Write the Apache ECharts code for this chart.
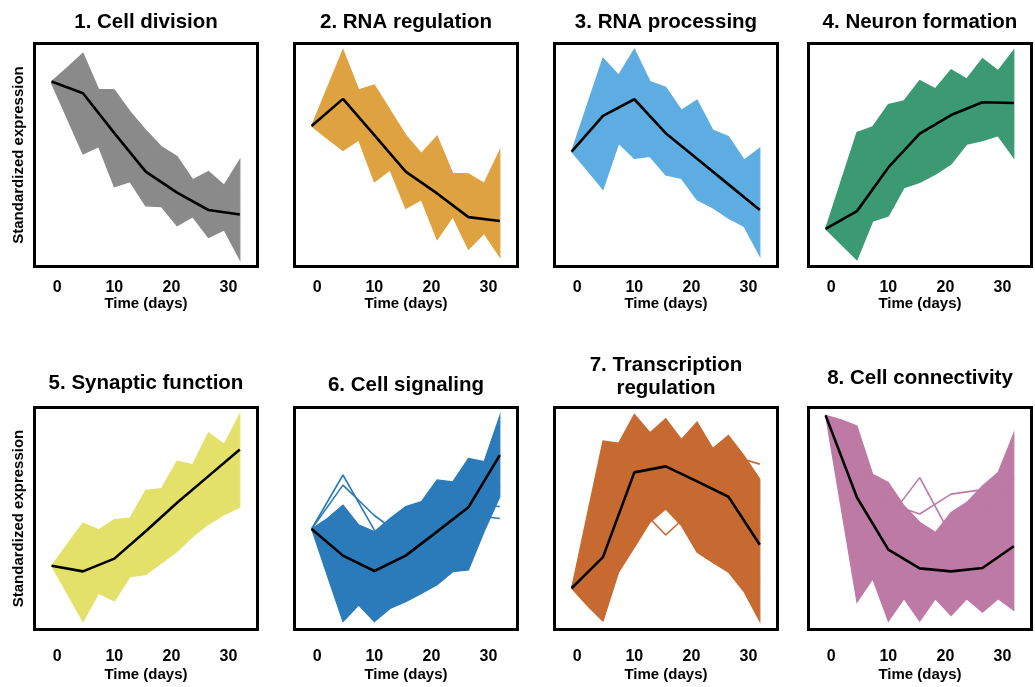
<!DOCTYPE html>
<html><head><meta charset="utf-8">
<script src="https://cdn.jsdelivr.net/npm/echarts@6/dist/echarts.min.js"></script>
<style>html,body{margin:0;padding:0;background:#fff}#c{width:1035px;height:687px}</style>
</head><body><div id="c"></div>
<script>
// ---- data ----
const TIMES = [-1, 4.5, 10, 15.5, 21, 26.5, 32];                // sampling days
const ENV_TIMES = [-1, 1.75, 4.5, 7.25, 10, 12.75, 15.5, 18.25, 21, 23.75, 26.5, 29.25, 32]; // envelope reading positions
const X_TICKS = [0, 10, 20, 30];
const TITLES = [['1. Cell division'], ['2. RNA regulation'], ['3. RNA processing'], ['4. Neuron formation'],
                ['5. Synaptic function'], ['6. Cell signaling'], ['7. Transcription', 'regulation'], ['8. Cell connectivity']];
const COLORS = ['#8a8a8a', '#dfa240', '#5eade2', '#3b9a73', '#e4e16a', '#2b7bba', '#c76a31', '#bd7aa5'];
const Y_NAME = 'Standardized expression';
const X_NAME = 'Time (days)';

const P1_MEAN  = [1.95, 1.64, 0.58, -0.44, -1.00, -1.46, -1.58];
const P1_UPPER = [1.95, 2.32, 2.70, 1.74, 1.73, 1.15, 0.66, 0.22, -0.04, -0.66, -0.44, -0.80, -0.13];
const P1_LOWER = [1.90, 0.97, 0.03, 0.22, -0.84, -0.71, -1.35, -1.37, -1.88, -1.64, -2.19, -1.99, -2.77];

const P2_MEAN  = [0.77, 1.49, 0.53, -0.44, -1.02, -1.65, -1.75];
const P2_UPPER = [0.77, 1.78, 2.79, 1.73, 1.86, 1.19, 0.53, 0.04, 0.50, -0.49, -0.50, -0.75, 0.12];
const P2_LOWER = [0.77, 0.44, 0.12, 0.40, -0.71, -0.40, -1.42, -1.19, -2.24, -1.64, -2.50, -2.08, -2.70];

const P3_MEAN  = [0.09, 1.04, 1.48, 0.58, -0.10, -0.78, -1.46];
const P3_UPPER = [0.09, 1.33, 2.57, 2.12, 2.81, 1.95, 1.80, 1.19, 1.46, 0.66, 0.49, -0.13, 0.18];
const P3_LOWER = [0.09, -0.40, -0.91, 0.31, -0.09, -0.04, -0.53, -0.62, -1.19, -1.40, -1.68, -1.90, -2.68];

const P4_MEAN  = [-1.96, -1.49, -0.33, 0.57, 1.06, 1.40, 1.38];
const P4_UPPER = [-1.96, -0.68, 0.60, 0.75, 1.34, 1.44, 1.98, 1.76, 2.26, 2.02, 2.56, 2.24, 2.78];
const P4_LOWER = [-1.96, -2.37, -2.78, -1.76, -1.62, -0.87, -0.73, -0.51, -0.24, 0.29, 0.38, 0.51, -0.07];

const P5_MEAN  = [-1.26, -1.41, -1.07, -0.34, 0.42, 1.13, 1.84];
const P5_UPPER = [-1.26, -0.69, -0.12, -0.30, -0.03, 0.01, 0.75, 0.80, 1.53, 1.44, 2.29, 1.98, 2.78];
const P5_LOWER = [-1.26, -2.00, -2.75, -1.99, -2.20, -1.55, -1.50, -1.19, -0.88, -0.48, -0.15, 0.10, 0.30];

const P6_MEAN  = [-0.28, -0.99, -1.40, -0.99, -0.35, 0.30, 1.69];
const P6_UPPER = [-0.28, 0.00, 0.36, -0.17, -0.35, 0.00, 0.32, 0.45, 1.03, 0.98, 1.60, 1.52, 2.74];
const P6_LOWER = [-0.28, -1.52, -2.75, -2.31, -2.75, -2.40, -2.22, -2.00, -1.77, -1.42, -1.37, -0.35, 0.58];
const P6_STRAY_A = [-0.28, 1.16, -0.31, -0.71, -0.35, 0.18, 0.89];
const P6_STRAY_B = [-0.28, 0.89, 0.08, -0.53, -0.35, 0.36, 0.32];
const P6_STRAY_C = [-0.28, -1.20, -1.60, -1.30, -0.60, 0.10, 0.00];

const P7_MEAN  = [-1.86, -1.03, 1.23, 1.39, 0.99, 0.58, -0.70];
const P7_UPPER = [-1.86, 0.11, 2.07, 2.01, 2.78, 2.29, 2.66, 2.11, 2.57, 1.87, 2.22, 1.67, 1.05];
const P7_LOWER = [-1.86, -2.32, -2.74, -1.43, -0.77, -0.10, 0.25, -0.19, -0.90, -1.17, -1.43, -1.96, -2.74];
const P7_STRAY_A = [-1.86, 0.40, 0.43, -0.44, 0.34, 0.50, -0.30];
const P7_STRAY_B = [-1.86, 1.00, 1.80, 1.90, 1.80, 1.70, 1.45];

const P8_MEAN  = [2.75, 0.56, -0.83, -1.33, -1.41, -1.32, -0.74];
const P8_UPPER = [2.75, 2.63, 2.47, 1.18, 0.96, 0.34, -0.10, -0.37, 0.16, 0.43, 0.87, 1.23, 2.27];
const P8_LOWER = [2.75, 0.26, -2.23, -1.61, -2.74, -2.14, -2.74, -2.14, -2.59, -2.14, -2.50, -2.14, -2.45];
const P8_STRAY_A = [2.75, 1.94, -0.01, 1.09, -0.46, 0.16, 1.05];
const P8_STRAY_B = [2.75, 1.50, 0.40, 0.12, 0.65, 0.77, 1.40];

const PANELS = [
  {mean: P1_MEAN, upper: P1_UPPER, lower: P1_LOWER, strays: []},
  {mean: P2_MEAN, upper: P2_UPPER, lower: P2_LOWER, strays: []},
  {mean: P3_MEAN, upper: P3_UPPER, lower: P3_LOWER, strays: []},
  {mean: P4_MEAN, upper: P4_UPPER, lower: P4_LOWER, strays: []},
  {mean: P5_MEAN, upper: P5_UPPER, lower: P5_LOWER, strays: []},
  {mean: P6_MEAN, upper: P6_UPPER, lower: P6_LOWER, strays: [P6_STRAY_A, P6_STRAY_B, P6_STRAY_C]},
  {mean: P7_MEAN, upper: P7_UPPER, lower: P7_LOWER, strays: [P7_STRAY_A, P7_STRAY_B]},
  {mean: P8_MEAN, upper: P8_UPPER, lower: P8_LOWER, strays: [P8_STRAY_A, P8_STRAY_B]}
];

// ---- layout ----
const FONT = '"Liberation Sans", Arial, Helvetica, sans-serif';
const COL_X = [33, 293, 553, 807];   // outer box left edges
const BOX_W = 226;
const ROWS = [
  {top: 42, h: 226, titleY: [22, 22, 22, 22], margin: 13, nameGap: 29},
  {top: 406, h: 225, titleY: [383, 385, 365, 378], margin: 19, nameGap: 38}
];
const BW = 3;

const grids = [], xAxes = [], yAxes = [], series = [], graphics = [];

PANELS.forEach((p, i) => {
  const r = ROWS[Math.floor(i / 4)], c = i % 4;
  const color = COLORS[i];
  grids.push({
    left: COL_X[c] + BW / 2, top: r.top + BW / 2, width: BOX_W - BW, height: r.h - BW,
    show: true, borderColor: '#000', borderWidth: BW, backgroundColor: 'transparent'
  });
  xAxes.push({
    gridIndex: i, type: 'value', min: -4, max: 35.1,
    axisLine: {show: false}, axisTick: {show: false}, splitLine: {show: false},
    axisLabel: {customValues: X_TICKS, margin: r.margin, color: '#000', fontSize: 16, fontWeight: 'bold', fontFamily: FONT},
    name: X_NAME, nameLocation: 'middle', nameGap: r.nameGap,
    nameTextStyle: {color: '#000', fontSize: 15, fontWeight: 'bold', fontFamily: FONT}
  });
  yAxes.push({
    gridIndex: i, type: 'value', min: -2.96, max: 2.96,
    axisLine: {show: false}, axisTick: {show: false}, splitLine: {show: false}, axisLabel: {show: false}
  });
  // band of all cluster profiles (upper/lower envelopes)
  series.push({
    type: 'custom', xAxisIndex: i, yAxisIndex: i, silent: true, z: 1, clip: false,
    data: [[TIMES[0], p.mean[0]]],
    renderItem: function (params, api) {
      const up = ENV_TIMES.map((t, j) => api.coord([t, p.upper[j]]));
      const lo = ENV_TIMES.map((t, j) => api.coord([t, p.lower[j]])).reverse();
      return {type: 'polygon', shape: {points: up.concat(lo)},
              style: {fill: color, stroke: color, lineWidth: 1.2, lineJoin: 'miter'}};
    }
  });
  p.strays.forEach(s => {
    series.push({
      type: 'line', xAxisIndex: i, yAxisIndex: i, z: 2, silent: true, symbol: 'none',
      data: TIMES.map((t, j) => [t, s[j]]),
      lineStyle: {color: color, width: 1.6}
    });
  });
  series.push({
    type: 'line', xAxisIndex: i, yAxisIndex: i, z: 3, silent: true, symbol: 'none',
    data: TIMES.map((t, j) => [t, p.mean[j]]),
    lineStyle: {color: '#000', width: 2.6}
  });
  // title
  const cx = COL_X[c] + BOX_W / 2;
  const lines = TITLES[i];
  lines.forEach((txt, k) => {
    const y = lines.length === 1 ? r.titleY[c] : r.titleY[c] + k * 23;
    graphics.push({
      type: 'text', x: cx, y: y, silent: true,
      style: {text: txt, fill: '#000', font: 'bold 20.5px ' + FONT,
              align: 'center', verticalAlign: 'middle', textAlign: 'center', textVerticalAlign: 'middle'}
    });
  });
  if (c === 0) {
    graphics.push({
      type: 'text', x: 18.5, y: r.top + r.h / 2, rotation: Math.PI / 2, silent: true,
      style: {text: Y_NAME, fill: '#000', font: 'bold 15px ' + FONT,
              align: 'center', verticalAlign: 'middle', textAlign: 'center', textVerticalAlign: 'middle'}
    });
  }
});

const chart = echarts.init(document.getElementById('c'), null, {renderer: 'canvas'});
chart.setOption({
  animation: false,
  backgroundColor: '#fff',
  grid: grids, xAxis: xAxes, yAxis: yAxes, series: series,
  graphic: {elements: graphics}
});
</script></body></html>
